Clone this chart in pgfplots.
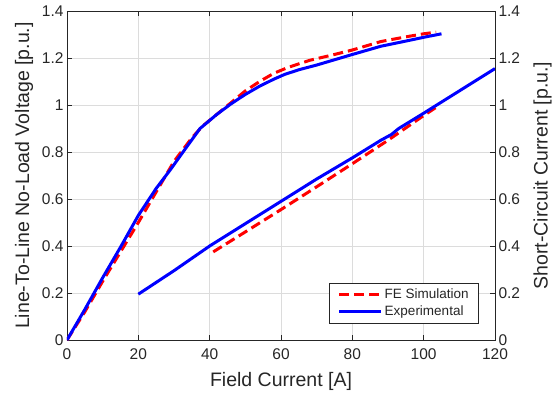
\documentclass[border=0pt]{standalone}
\usepackage{pgfplots}
\pgfplotsset{compat=1.18}
\usepackage{fontspec}
\setmainfont{Liberation Sans}
\definecolor{axgray}{HTML}{262626}
\definecolor{gridgray}{HTML}{DCDCDC}
\begin{document}
\begin{tikzpicture}
\useasboundingbox (-67pt,-54pt) rectangle (492pt,340pt);
\begin{axis}[
  scale only axis, width=428pt, height=329pt,
  xmin=0, xmax=120, ymin=0, ymax=1.4,
  xtick={0,20,...,120}, ytick={0,0.2,...,1.4},
  yticklabels={0,0.2,0.4,0.6,0.8,1,1.2,1.4},
  ytick pos=left, xtick pos=both,
  tick align=inside, major tick length=5pt,
  axis line style={axgray, line width=0.8pt},
  every tick/.style={axgray, line width=0.8pt},
  grid=major, major grid style={gridgray, line width=0.6pt},
  /pgf/number format/assume math mode=true,
  tick label style={font=\fontsize{15.5}{18}\selectfont, text=axgray},
  xticklabel style={yshift=-5pt},
  xlabel={Field Current [A]},
  ylabel={Line-To-Line No-Load Voltage [p.u.]},
  label style={font=\fontsize{19.5}{22}\selectfont, text=axgray},
  xlabel style={at={(axis description cs:0.5,-0.125)}, anchor=center},
  ylabel style={at={(axis description cs:-0.1,0.5)}, anchor=center},
  legend style={at={(rel axis cs:0.963,0.049)}, anchor=south east,
    draw=axgray, line width=0.8pt, fill=white,
    font=\fontsize{13.5}{16}\selectfont, text=axgray,
    inner xsep=8pt, inner ysep=4pt, row sep=2pt},
  legend cell align=left,
  legend image code/.code={\draw[#1] (0pt,0pt) -- (42pt,0pt);},
]
% OCC FE simulation
\addplot[red, line width=3pt, dash pattern=on 10pt off 5pt] coordinates {
(0,0) (5,0.12) (10,0.25) (15,0.375) (20,0.5) (25,0.63) (30,0.76) (35,0.86) (38,0.91) (42,0.96) (46,1.01) (50,1.06) (54,1.10) (58,1.135) (62,1.16) (68,1.19) (75,1.215) (80,1.234) (88,1.27) (95,1.29) (100,1.303) (103.5,1.31)
};
\addlegendentry{FE Simulation}
% OCC experimental
\addplot[blue, line width=3pt] coordinates {
(0,0) (5,0.13) (10,0.265) (15,0.395) (20,0.53) (25,0.645) (29,0.725) (33,0.81) (37.3,0.90) (42,0.96) (46,1.005) (50,1.045) (54,1.08) (58,1.11) (61,1.13) (65,1.15) (70,1.17) (80,1.215) (88,1.25) (95,1.272) (100,1.288) (105,1.303)
};
\addlegendentry{Experimental}
% SCC FE simulation
\addplot[red, line width=3pt, dash pattern=on 10pt off 5pt, forget plot] coordinates {
(41,0.375) (50,0.46) (60,0.555) (70,0.652) (80,0.75) (90,0.85) (100,0.955) (104.5,1.0)
};
% SCC experimental
\addplot[blue, line width=3pt, forget plot] coordinates {
(20,0.195) (30,0.295) (40,0.40) (50,0.495) (60,0.59) (70,0.685) (80,0.775) (88,0.85) (91,0.875) (93,0.9) (100,0.965) (110,1.06) (120,1.155)
};
\end{axis}
\begin{axis}[
  scale only axis, width=428pt, height=329pt,
  xmin=0, xmax=120, ymin=0, ymax=1.4,
  axis x line=none,
  axis y line*=right,
  ytick={0,0.2,...,1.4},
  yticklabels={0,0.2,0.4,0.6,0.8,1,1.2,1.4},
  tick align=inside, major tick length=5pt,
  axis line style={axgray, line width=0.8pt, -},
  every tick/.style={axgray, line width=0.8pt},
  /pgf/number format/assume math mode=true,
  tick label style={font=\fontsize{15.5}{18}\selectfont, text=axgray},
  ylabel={Short-Circuit Current [p.u.]},
  label style={font=\fontsize{19.5}{22}\selectfont, text=axgray},
  ylabel style={at={(axis description cs:1.111,0.5)}, anchor=center},
]
\end{axis}
\end{tikzpicture}
\end{document}
